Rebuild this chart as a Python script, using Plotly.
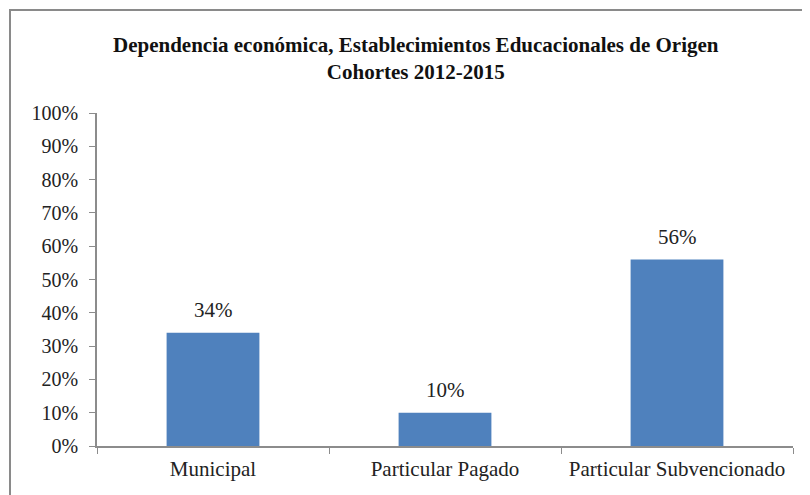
import plotly.graph_objects as go

categories = ["Municipal", "Particular Pagado", "Particular Subvencionado"]
values = [0.34, 0.10, 0.56]
labels = ["34%", "10%", "56%"]
y_ticks = [0, 0.1, 0.2, 0.3, 0.4, 0.5, 0.6, 0.7, 0.8, 0.9, 1.0]
y_tick_text = ["0%", "10%", "20%", "30%", "40%", "50%", "60%", "70%", "80%", "90%", "100%"]
title_text = "<b>Dependencia económica, Establecimientos Educacionales de Origen<br>Cohortes 2012-2015</b>"

FONT = "Liberation Serif, Times New Roman, serif"
W, H = 810, 495
OFF = 8  # page body margin
# plot area in window pixels
X0, X1, Y0, Y1 = 97, 793, 113, 446
L, T = X0 - OFF, Y0 - OFF
R, B = W - (X1 - OFF), H - (Y1 - OFF)
pw, ph = X1 - X0, Y1 - Y0


def px(x):
    return (x - X0) / pw


def py(y):
    return (Y1 - y) / ph


fig = go.Figure(go.Bar(
    x=categories, y=values, width=0.4,
    marker=dict(color="#4F81BD", line=dict(width=0)),
    cliponaxis=False,
))

label_annotations = [
    dict(x=c, y=v, xref="x", yref="y", text=t, showarrow=False,
         yanchor="middle", yshift=23,
         font=dict(family=FONT, size=21, color="#222"))
    for c, v, t in zip(categories, values, labels)
]

fig.update_layout(
    width=W, height=H,
    margin=dict(l=L, r=R, t=T, b=B),
    paper_bgcolor="white", plot_bgcolor="white",
    showlegend=False,
    font=dict(family=FONT, size=21, color="#222"),
    annotations=[dict(
        text=title_text, xref="paper", yref="paper",
        x=px(416), y=py(58.5), xanchor="center", yanchor="middle",
        showarrow=False, align="center",
        font=dict(family=FONT, size=21, color="#111"),
    )] + label_annotations,
    shapes=[dict(
        type="rect", xref="paper", yref="paper",
        x0=px(10), x1=px(840), y0=py(540), y1=py(10),
        line=dict(color="#8a8a8a", width=2), fillcolor="rgba(0,0,0,0)",
        layer="below",
    )],
)

fig.update_xaxes(
    showline=True, linecolor="#8c8c8c", linewidth=1.5,
    ticks="outside", tickson="boundaries", ticklen=6, tickcolor="#8c8c8c",
    ticklabelstandoff=3,
    tickfont=dict(family=FONT, size=21, color="#222"),
    showgrid=False, zeroline=False,
)
fig.update_yaxes(
    range=[0, 1.0], tickvals=y_ticks, ticktext=y_tick_text,
    showline=True, linecolor="#8c8c8c", linewidth=1.5,
    ticks="outside", ticklen=6, tickcolor="#8c8c8c",
    ticklabelstandoff=7,
    tickfont=dict(family=FONT, size=20, color="#222"),
    showgrid=False, zeroline=False,
)

fig.write_html("out.html")
